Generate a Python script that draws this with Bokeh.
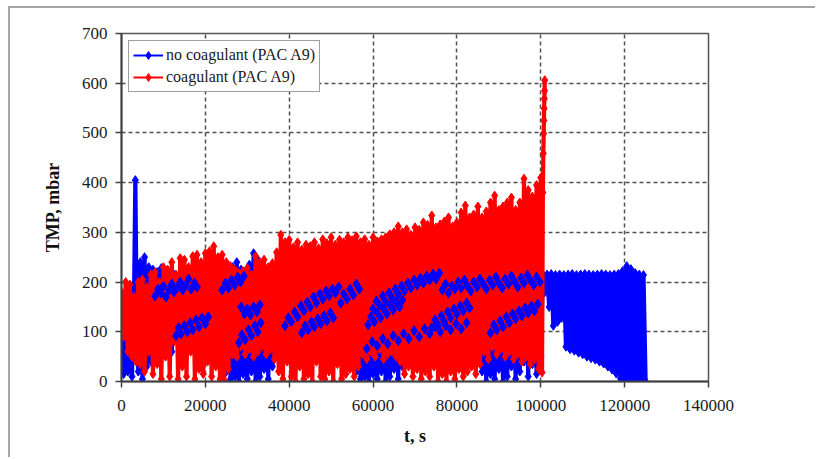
from bokeh.plotting import figure
from bokeh.models import Range1d, FixedTicker, BasicTickFormatter, Legend, LegendItem
from bokeh.embed import file_html
from bokeh.resources import INLINE

# ---------------- data ----------------
x_ticks = [0, 20000, 40000, 60000, 80000, 100000, 120000, 140000]
y_ticks = [0, 100, 200, 300, 400, 500, 600, 700]

blue_label = "no coagulant (PAC A9)"
red_label = "coagulant (PAC A9)"

blue_t = [
    0, 500, 1000, 1500, 2000, 2500, 3000, 3300, 3500, 4000, 4500,
    5000, 5500, 6000, 6500, 7000, 7500, 8000, 8500, 9000, 9500,
    10000, 10500, 11000, 11500, 12000, 12500, 13000, 13500, 14000, 14500,
    15000, 15500, 16000, 16500, 17000, 17500, 18000, 18500, 19000, 19500,
    20000, 20500, 21000, 21500, 22000, 22500, 23000, 23500, 24000, 24500,
    25000, 25500, 26000, 26500, 27000, 27500, 28000, 28500, 29000, 29500,
    30000, 30500, 31000, 31500, 32000, 32500, 33000, 33500, 34000, 34500,
    35000, 35500, 36000, 36500, 37000, 37500, 38000, 38500, 39000, 39500,
    40000, 40500, 41000, 41500, 42000, 42500, 43000, 43500, 44000, 44500,
    45000, 45500, 46000, 46500, 47000, 47500, 48000, 48500, 49000, 49500,
    50000, 50500, 51000, 51500, 52000, 52500, 53000, 53500, 54000, 54500,
    55000, 55500, 56000, 56500, 57000, 57500, 58000, 58500, 59000, 59500,
    60000, 60500, 61000, 61500, 62000, 62500, 63000, 63500, 64000, 64500,
    65000, 65500, 66000, 66500, 67000, 67500, 68000, 68500, 69000, 69500,
    70000, 70500, 71000, 71500, 72000, 72500, 73000, 73500, 74000, 74500,
    75000, 75500, 76000, 76500, 77000, 77500, 78000, 78500, 79000, 79500,
    80000, 80500, 81000, 81500, 82000, 82500, 83000, 83500, 84000, 84500,
    85000, 85500, 86000, 86500, 87000, 87500, 88000, 88500, 89000, 89500,
    90000, 90500, 91000, 91500, 92000, 92500, 93000, 93500, 94000, 94500,
    95000, 95500, 96000, 96500, 97000, 97500, 98000, 98500, 99000, 99500,
    100000, 100500, 101000, 101500, 102000, 102500, 103000, 103500, 104000, 104500,
    105000, 105500, 106000, 106500, 107000, 107500, 108000, 108500, 109000, 109500,
    110000, 110500, 111000, 111500, 112000, 112500, 113000, 113500, 114000, 114500,
    115000, 115500, 116000, 116500, 117000, 117500, 118000, 118500, 119000, 119500,
    120000, 120500, 121000, 121500, 122000, 122500, 123000, 123500, 124000, 124500,
    125000,
]
blue_tmp = [
    130, 15, 150, 20, 165, 10, 175, 405, 235, 20, 240,
    5, 250, 30, 230, 40, 225, 60, 220, 80, 228,
    70, 210, 90, 200, 60, 215, 95, 205, 75, 215,
    100, 200, 65, 210, 85, 195, 55, 190, 110, 200,
    70, 190, 120, 195, 90, 205, 40, 200, 60, 210,
    20, 215, 5, 230, 10, 240, 0, 225, 15, 200,
    5, 235, 20, 258, 0, 245, 10, 230, 25, 220,
    5, 215, 30, 190, 60, 185, 90, 180, 45, 195,
    100, 175, 70, 190, 120, 200, 55, 185, 110, 170,
    80, 195, 130, 180, 60, 200, 95, 175, 140, 190,
    50, 205, 120, 185, 75, 200, 150, 210, 100, 190,
    60, 200, 20, 205, 5, 195, 10, 210, 0, 200,
    15, 205, 5, 215, 20, 200, 0, 210, 10, 195,
    25, 205, 5, 200, 30, 190, 80, 200, 120, 185,
    60, 205, 140, 195, 90, 210, 150, 200, 70, 190,
    130, 205, 100, 195, 160, 210, 80, 200, 140, 190,
    110, 205, 170, 195, 90, 210, 150, 200, 120, 205,
    60, 210, 20, 195, 0, 205, 15, 200, 5, 210,
    25, 195, 0, 205, 10, 200, 30, 212, 5, 205,
    20, 210, 40, 200, 10, 212, 35, 205, 15, 212,
    50, 215, 180, 215, 150, 216, 112, 214, 120, 215,
    128, 214, 70, 215, 65, 216, 62, 214, 58, 215,
    55, 216, 50, 215, 47, 214, 44, 215, 40, 216,
    36, 215, 30, 214, 24, 215, 16, 216, 6, 222,
    2, 232, 0, 226, 3, 218, 0, 215, 2, 214,
    0,
]

# blue (no coagulant) filtration-phase points that show on top of the red band
blue_top_t = [
    8000, 8700, 9400, 10000, 10600, 11300, 12000, 12500, 13200, 14000, 14600, 15300, 16000, 16600, 17400, 18000,
    13000, 13600, 14200, 15000, 15700, 16400, 17000, 17800, 18500, 19200, 20000, 20700,
    24000, 24800, 25500, 26200, 27000, 27700, 28400, 29200,
    28500, 29300, 30000, 30800, 31500, 32300, 33000,
    28000, 28700, 29500, 30300, 31000, 31800, 32500, 33200,
    39000, 39800, 40500, 41300, 42000, 42800, 43500, 44300, 45000, 45800, 46500, 47300, 48000, 48800,
    49500, 50300, 51000, 51800,
    43000, 43800, 44500, 45300, 46000, 46800, 47500, 48300, 49000, 49800, 50500,
    52300, 53000, 53800, 54500, 55300, 56000, 56700,
    60000, 60800, 61500, 62300, 63000, 63800, 64500, 65300, 66000, 66800, 67500, 68300, 69000, 69800,
    70500, 71300, 72000, 72800, 73500, 74300, 75000, 75800,
    76500, 77300, 78000, 78800, 79500, 80300, 81000, 81800, 82500, 83300,
    84000, 84800, 85500, 86300, 87000, 87800, 88500, 89300, 90000, 90800,
    91500, 92300, 93000, 93800, 94500, 95300, 96000, 96800, 97500, 98300,
    99000, 99800,
    58800, 59500, 60300, 61000, 61800, 62500, 63300, 64000, 64800, 65500, 66300, 67000,
    74000, 74800, 75500, 76300, 77000, 77800, 78500, 79300, 80000, 80800, 81500, 82300, 83000,
    58500, 59800, 61000, 62300, 63500, 64800, 66000, 67300, 68500, 69800,
    71000, 72300, 73500, 74800, 76000, 77300, 78500, 79800, 81000, 82300,
    88000, 88800, 89500, 90300, 91000, 91800, 92500, 93300, 94000, 94800, 95500, 96300, 97000, 97800,
    98500, 99300,
]
blue_top_tmp = [
    172, 186, 178, 192, 170, 184, 196, 180, 188, 200, 184, 194, 206, 186, 198, 190,
    92, 108, 96, 112, 100, 118, 104, 124, 110, 128, 116, 130,
    184, 198, 188, 204, 194, 210, 200, 212,
    150, 136, 146, 134, 150, 140, 154,
    78, 94, 84, 104, 92, 112, 100, 118,
    112, 128, 120, 140, 130, 152, 142, 160, 150, 170, 158, 176, 166, 182,
    172, 186, 178, 190,
    98, 112, 104, 120, 110, 126, 116, 132, 122, 138, 128,
    158, 176, 166, 186, 174, 196, 186,
    146, 162, 154, 172, 160, 178, 168, 186, 176, 192, 182, 198, 188, 204,
    194, 208, 198, 212, 204, 216, 206, 218,
    184, 196, 178, 192, 186, 200, 188, 204, 192, 182,
    200, 190, 206, 196, 186, 204, 194, 210, 198, 188,
    206, 196, 212, 200, 190, 208, 198, 214, 204, 194,
    210, 200,
    114, 130, 120, 138, 128, 146, 136, 154, 144, 160, 150, 164,
    108, 124, 114, 132, 120, 140, 128, 146, 136, 152, 142, 158, 148,
    66, 80, 72, 86, 76, 92, 82, 96, 86, 102,
    90, 106, 96, 110, 100, 112, 104, 116, 106, 118,
    98, 114, 104, 122, 110, 130, 118, 136, 126, 142, 132, 148, 138, 152,
    142, 156,
]

red_t = [
    0, 500, 1000, 1500, 2000, 2500, 3000, 3500, 4000, 4500,
    5000, 5500, 6000, 6500, 7000, 7500, 8000, 8500, 9000, 9500,
    10000, 10500, 11000, 11500, 12000, 12500, 13000, 13500, 14000, 14500,
    15000, 15500, 16000, 16500, 17000, 17500, 18000, 18500, 19000, 19500,
    20000, 20500, 21000, 21500, 22000, 22500, 23000, 23500, 24000, 24500,
    25000, 25500, 26000, 26500, 27000, 27500, 28000, 28500, 29000, 29500,
    30000, 30500, 31000, 31500, 32000, 32500, 33000, 33500, 34000, 34500,
    35000, 35500, 36000, 36500, 37000, 37500, 38000, 38500, 39000, 39500,
    40000, 40500, 41000, 41500, 42000, 42500, 43000, 43500, 44000, 44500,
    45000, 45500, 46000, 46500, 47000, 47500, 48000, 48500, 49000, 49500,
    50000, 50500, 51000, 51500, 52000, 52500, 53000, 53500, 54000, 54500,
    55000, 55500, 56000, 56500, 57000, 57500, 58000, 58500, 59000, 59500,
    60000, 60500, 61000, 61500, 62000, 62500, 63000, 63500, 64000, 64500,
    65000, 65500, 66000, 66500, 67000, 67500, 68000, 68500, 69000, 69500,
    70000, 70500, 71000, 71500, 72000, 72500, 73000, 73500, 74000, 74500,
    75000, 75500, 76000, 76500, 77000, 77500, 78000, 78500, 79000, 79500,
    80000, 80500, 81000, 81500, 82000, 82500, 83000, 83500, 84000, 84500,
    85000, 85500, 86000, 86500, 87000, 87500, 88000, 88500, 89000, 89500,
    90000, 90500, 91000, 91500, 92000, 92500, 93000, 93500, 94000, 94500,
    95000, 95500, 96000, 96500, 97000, 97500, 98000, 98500, 99000, 99500,
    100000, 100300, 100500, 100600, 100700, 100750, 100800, 100850, 100900, 100950,
]
red_tmp = [
    180, 90, 200, 60, 195, 50, 170, 40, 200, 35,
    205, 20, 190, 60, 215, 15, 220, 35, 200, 5,
    230, 50, 225, 10, 240, 80, 215, 5, 248, 30,
    245, 10, 230, 60, 252, 5, 255, 25, 240, 15,
    258, 40, 262, 10, 272, 30, 250, 5, 255, 2,
    240, 25, 232, 55, 225, 50, 218, 70, 222, 55,
    228, 65, 215, 50, 252, 60, 240, 70, 245, 55,
    230, 65, 238, 45, 260, 20, 295, 5, 280, 40,
    285, 10, 270, 0, 280, 30, 265, 5, 275, 15,
    272, 0, 280, 40, 268, 10, 286, 5, 278, 20,
    290, 0, 275, 35, 285, 5, 280, 15, 290, 25,
    284, 10, 292, 30, 280, 55, 286, 45, 275, 60,
    290, 50, 282, 65, 286, 45, 290, 55, 296, 60,
    300, 50, 312, 40, 300, 15, 306, 30, 295, 10,
    310, 25, 305, 5, 320, 20, 315, 10, 334, 30,
    310, 0, 316, 15, 322, 0, 330, 20, 312, 5,
    320, 25, 340, 10, 354, 20, 330, 30, 336, 15,
    352, 35, 330, 60, 342, 45, 360, 70, 374, 55,
    345, 65, 352, 50, 360, 60, 370, 45, 345, 55,
    360, 40, 408, 50, 385, 35, 372, 45, 395, 25,
    410, 18, 380, 459, 499, 525, 549, 569, 585, 606,
]

# ---------------- figure ----------------
BLUE = "#0000ff"
RED = "#ff0000"
SERIF = "Liberation Serif"
NAN = float("nan")

p = figure(
    width=807, height=451,
    output_backend="svg", toolbar_location=None,
    x_range=Range1d(0, 140000), y_range=Range1d(0, 700),
    min_border_left=111, min_border_right=109,
    min_border_top=25, min_border_bottom=78,
    background_fill_color="white", border_fill_color="white",
)
p.styles = {
    "margin-left": "8px", "margin-top": "6px",
    "border-left": "2px solid #a6a6a6", "border-top": "2px solid #a6a6a6",
}

p.outline_line_color = "#555555"
p.outline_line_width = 1.5

for ax in (p.xaxis[0], p.yaxis[0]):
    ax.axis_line_color = "#404040"
    ax.axis_line_width = 2
    ax.major_tick_line_color = "#404040"
    ax.major_tick_line_width = 1.5
    ax.major_tick_out = 6
    ax.major_tick_in = 0
    ax.minor_tick_line_color = None
    ax.major_label_text_font = SERIF
    ax.major_label_text_font_size = "17px"
    ax.major_label_text_color = "#1a1a1a"
    ax.axis_label_text_font = SERIF
    ax.axis_label_text_font_size = "18px"
    ax.axis_label_text_font_style = "bold"
    ax.axis_label_text_color = "#111111"

p.xaxis[0].ticker = FixedTicker(ticks=x_ticks)
p.yaxis[0].ticker = FixedTicker(ticks=y_ticks)
p.xaxis[0].formatter = BasicTickFormatter(use_scientific=False)
p.xaxis[0].axis_label = "t, s"
p.yaxis[0].axis_label = "TMP, mbar"
p.xaxis[0].major_label_standoff = 12
p.yaxis[0].major_label_standoff = 8
p.xaxis[0].axis_label_standoff = 12
p.yaxis[0].axis_label_standoff = 16

for g in (p.xgrid[0], p.ygrid[0]):
    g.grid_line_color = "#505050"
    g.grid_line_width = 1.5
    g.grid_line_dash = "4 3"

# dense data: thick lines so the fast oscillation reads as a filled band
p.line(blue_t, blue_tmp, line_color=BLUE, line_width=4.2, line_join="round")
p.scatter(blue_t, blue_tmp, marker="diamond", size=9, fill_color=BLUE, line_color=BLUE)
p.line(red_t, red_tmp, line_color=RED, line_width=4.2, line_join="round")
p.scatter(red_t, red_tmp, marker="diamond", size=9, fill_color=RED, line_color=RED)
p.scatter(blue_top_t, blue_top_tmp, marker="diamond", size=10, fill_color=BLUE, line_color=BLUE)

# legend samples (thin line + diamond, as in the reference legend); no visible data
lb = p.line([NAN], [NAN], line_color=BLUE, line_width=2)
mb = p.scatter([NAN], [NAN], marker="diamond", size=8, fill_color=BLUE, line_color=BLUE)
lr = p.line([NAN], [NAN], line_color=RED, line_width=2)
mr = p.scatter([NAN], [NAN], marker="diamond", size=8, fill_color=RED, line_color=RED)

legend = Legend(
    items=[LegendItem(label=blue_label, renderers=[lb, mb]),
           LegendItem(label=red_label, renderers=[lr, mr])],
    location="top_left",
    margin=7, padding=4, spacing=2,
    glyph_width=30, glyph_height=20, label_standoff=3, label_height=20,
    label_text_font=SERIF, label_text_font_size="16px", label_text_color="#1a1a1a",
    border_line_color="#404040", border_line_width=1.5,
    background_fill_color="white", background_fill_alpha=1,
)
p.add_layout(legend)

open("out.html", "w").write(file_html(p, INLINE))
